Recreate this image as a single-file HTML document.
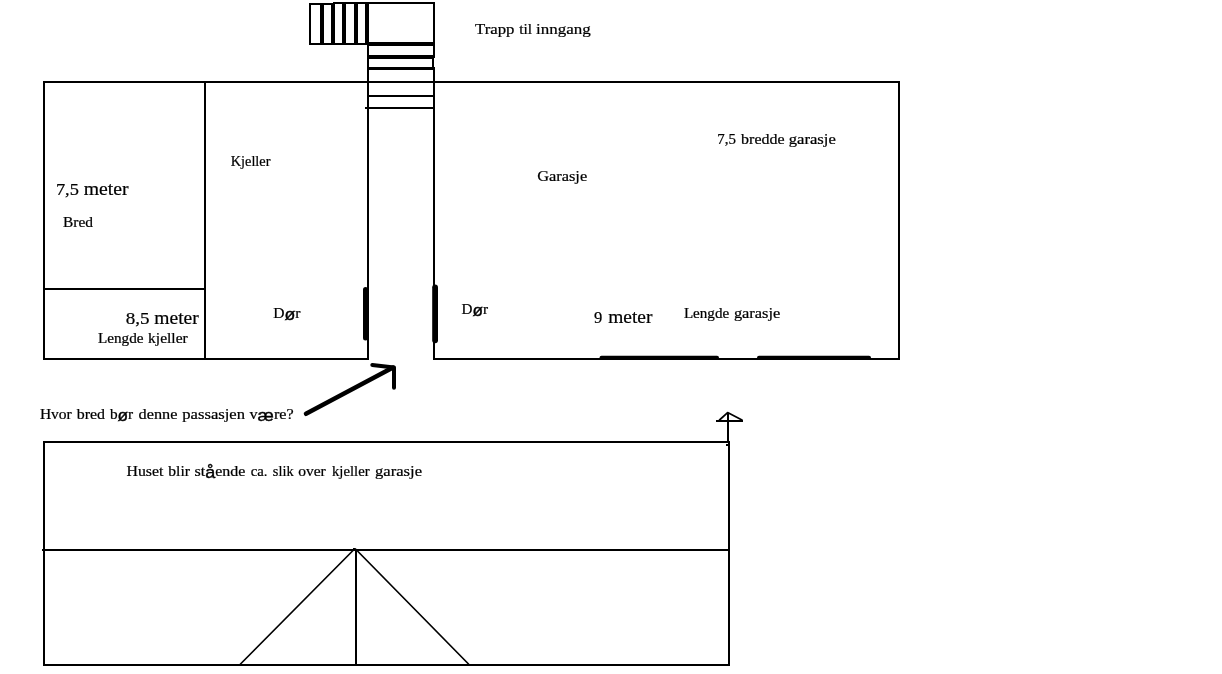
<!DOCTYPE html>
<html lang="no">
<head>
<meta charset="utf-8">
<title>Kjeller og garasje</title>
<style>
  html, body { margin: 0; padding: 0; background: #ffffff; }
  body { width: 1222px; height: 674px; overflow: hidden; position: relative; }
  svg { position: absolute; left: 0; top: 0; display: block; will-change: transform; }
  .ln rect { fill: #000; }
  text { font-family: "Liberation Serif", serif; fill: #000; stroke: #000; stroke-width: 0.22px; }
  .s { font-size: 14.5px; }
  .b { font-size: 19.4px; }
  .b .d { font-size: 17.7px; }
  .s .d { font-size: 14px; }
  .x { font-family: "Liberation Sans", sans-serif; font-size: 16.4px; fill: #000; stroke: #000; stroke-width: 0.38px; }
</style>
</head>
<body>
<svg width="1222" height="674" viewBox="0 0 1222 674">
  <rect x="0" y="0" width="1222" height="674" fill="#ffffff"/>

  <!-- axis-aligned lines -->
  <g class="ln" shape-rendering="crispEdges">
    <!-- stairs: left flight -->
    <rect x="309" y="3" width="2" height="42"/>
    <rect x="309" y="3" width="25" height="2"/>
    <rect x="333" y="2" width="102" height="2"/>
    <rect x="309" y="43" width="60" height="2"/>
    <rect x="320" y="4" width="4" height="40"/>
    <rect x="331" y="3" width="4" height="41"/>
    <rect x="342" y="3" width="4" height="41"/>
    <rect x="354" y="3" width="4" height="41"/>
    <rect x="365" y="3" width="4" height="42"/>
    <!-- stairs: landing + down flight -->
    <rect x="433" y="2" width="2" height="56"/>
    <rect x="432" y="56" width="2" height="13"/>
    <rect x="433" y="67" width="2" height="293"/>
    <rect x="367" y="43" width="2" height="317"/>
    <rect x="369" y="42" width="66" height="4"/>
    <rect x="368" y="55" width="66" height="4"/>
    <rect x="368" y="67" width="67" height="3"/>
    <rect x="368" y="95" width="66" height="2"/>
    <rect x="365" y="107" width="69" height="2"/>

    <!-- upper plan outline -->
    <rect x="43" y="81" width="857" height="2"/>
    <rect x="43" y="81" width="2" height="279"/>
    <rect x="898" y="81" width="2" height="279"/>
    <rect x="43" y="358" width="326" height="2"/>
    <rect x="433" y="358" width="467" height="2"/>
    <rect x="204" y="81" width="2" height="279"/>
    <rect x="43" y="288" width="162" height="2"/>

    <!-- lower elevation -->
    <rect x="43" y="441" width="687" height="2"/>
    <rect x="43" y="441" width="2" height="225"/>
    <rect x="728" y="441" width="2" height="225"/>
    <rect x="43" y="664" width="687" height="2"/>
    <rect x="42" y="549" width="688" height="2"/>
    <rect x="355" y="549" width="2" height="116"/>
    <!-- small arrow stem -->
    <rect x="727" y="413" width="2" height="30"/>
    <rect x="716" y="420" width="27" height="2"/>
    <rect x="726" y="444" width="2" height="2"/>
    <rect x="353" y="548" width="2" height="1"/>
  </g>

  <!-- freehand / diagonal strokes -->
  <g fill="none" stroke="#000" stroke-linecap="round" stroke-linejoin="round">
    <!-- doors -->
    <path d="M365.5 289.5 V338" stroke-width="5"/>
    <path d="M435.1 287.3 V340.3" stroke-width="5.8"/>
    <!-- garage doors -->
    <path d="M601.5 357.8 H717" stroke-width="4"/>
    <path d="M759 357.8 H869" stroke-width="4"/>
    <!-- big arrow -->
    <path d="M306 413.8 L393 367.5" stroke-width="4.5"/>
    <path d="M372.3 365 L394 367.4 V387.8" stroke-width="4"/>
    <!-- roof diagonals -->
    <path d="M354.5 549 L240.5 664" stroke-width="1.7"/>
    <path d="M355.5 549 L468.5 664" stroke-width="1.7"/>
    <!-- small arrow head -->
    <path d="M719.5 420 L727.6 412.6 L742 420" stroke-width="1.7"/>
  </g>

  <!-- labels -->
  <text class="s" y="33.5"><tspan x="475.1" textLength="39.4" lengthAdjust="spacingAndGlyphs">Trapp</tspan> <tspan x="519.2" textLength="12.9" lengthAdjust="spacingAndGlyphs">til</tspan> <tspan x="536" textLength="54.8" lengthAdjust="spacingAndGlyphs">inngang</tspan></text>
  <text class="s" y="144.3"><tspan class="d" x="717.3" textLength="18.7" lengthAdjust="spacingAndGlyphs">7,5</tspan> <tspan x="741.1" textLength="43.5" lengthAdjust="spacingAndGlyphs">bredde</tspan> <tspan x="788.8" textLength="47.0" lengthAdjust="spacingAndGlyphs">garasje</tspan></text>
  <text class="s" y="165.7"><tspan x="230.7" textLength="39.8" lengthAdjust="spacingAndGlyphs">Kjeller</tspan></text>
  <text class="s" y="180.8"><tspan x="537.2" textLength="50.0" lengthAdjust="spacingAndGlyphs">Garasje</tspan></text>
  <text class="b" y="195"><tspan class="d" x="55.9" textLength="23.0" lengthAdjust="spacingAndGlyphs">7,5</tspan> <tspan x="83.8" textLength="44.8" lengthAdjust="spacingAndGlyphs">meter</tspan></text>
  <text class="s" y="226.7"><tspan x="63" textLength="30" lengthAdjust="spacingAndGlyphs">Bred</tspan></text>
  <text class="b" y="323.6"><tspan class="d" x="125.8" textLength="23.8" lengthAdjust="spacingAndGlyphs">8,5</tspan> <tspan x="154.3" textLength="44.5" lengthAdjust="spacingAndGlyphs">meter</tspan></text>
  <text class="s" y="343.4" style="font-size:14px"><tspan x="97.9" textLength="45.6" lengthAdjust="spacingAndGlyphs">Lengde</tspan> <tspan x="148.1" textLength="39.6" lengthAdjust="spacingAndGlyphs">kjeller</tspan></text>
  <text class="s" y="318.3"><tspan x="273.3" textLength="27.3" lengthAdjust="spacingAndGlyphs">D<tspan class="x" dy="1.6">ø</tspan><tspan dy="-1.6">r</tspan></tspan></text>
  <text class="s" y="313.9"><tspan x="461.5" textLength="26.5" lengthAdjust="spacingAndGlyphs">D<tspan class="x" dy="1.6">ø</tspan><tspan dy="-1.6">r</tspan></tspan></text>
  <text class="b" y="322.7"><tspan class="d" x="593.9" textLength="8.3" lengthAdjust="spacingAndGlyphs">9</tspan> <tspan x="608.2" textLength="44.2" lengthAdjust="spacingAndGlyphs">meter</tspan></text>
  <text class="s" y="317.7"><tspan x="683.9" textLength="45.3" lengthAdjust="spacingAndGlyphs">Lengde</tspan> <tspan x="733.9" textLength="46.4" lengthAdjust="spacingAndGlyphs">garasje</tspan></text>
  <text class="s" y="418.9"><tspan x="39.9" textLength="31.9" lengthAdjust="spacingAndGlyphs">Hvor</tspan> <tspan x="76.7" textLength="28.3" lengthAdjust="spacingAndGlyphs">bred</tspan> <tspan x="109.9" textLength="23.3" lengthAdjust="spacingAndGlyphs">b<tspan class="x" dy="1.6">ø</tspan><tspan dy="-1.6">r</tspan></tspan> <tspan x="138.5" textLength="38.9" lengthAdjust="spacingAndGlyphs">denne</tspan> <tspan x="182.3" textLength="62.7" lengthAdjust="spacingAndGlyphs">passasjen</tspan> <tspan x="249.5" textLength="44.2" lengthAdjust="spacingAndGlyphs">v<tspan class="x" dy="1.6">æ</tspan><tspan dy="-1.6">re?</tspan></tspan></text>
  <text class="s" y="476"><tspan x="126.5" textLength="36.9" lengthAdjust="spacingAndGlyphs">Huset</tspan> <tspan x="168.3" textLength="21.7" lengthAdjust="spacingAndGlyphs">blir</tspan> <tspan x="194.5" textLength="50.9" lengthAdjust="spacingAndGlyphs">st<tspan class="x" dy="1.6">å</tspan><tspan dy="-1.6">ende</tspan></tspan> <tspan x="250.7" textLength="16.8" lengthAdjust="spacingAndGlyphs">ca.</tspan> <tspan x="272.8" textLength="20.8" lengthAdjust="spacingAndGlyphs">slik</tspan> <tspan x="298.2" textLength="27.6" lengthAdjust="spacingAndGlyphs">over</tspan> <tspan x="332" textLength="37.6" lengthAdjust="spacingAndGlyphs">kjeller</tspan> <tspan x="375.1" textLength="46.9" lengthAdjust="spacingAndGlyphs">garasje</tspan></text>
</svg>
</body>
</html>
